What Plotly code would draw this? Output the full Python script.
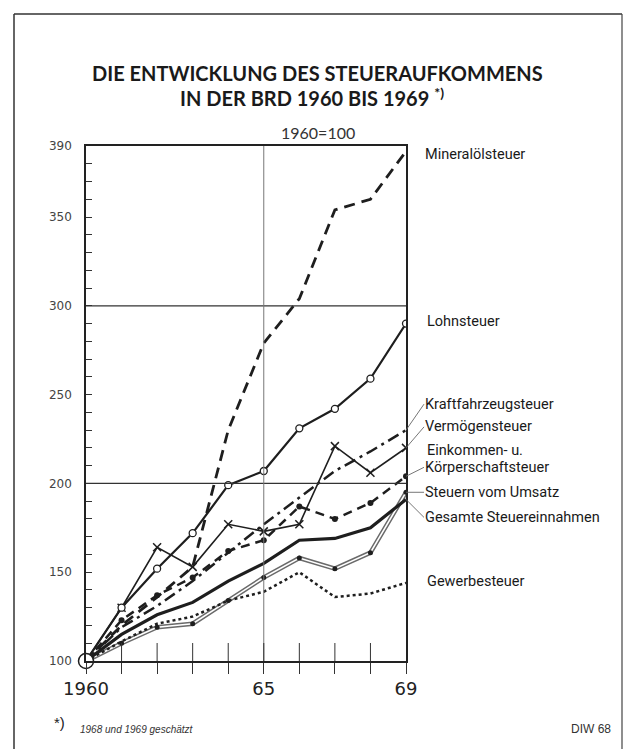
import plotly.graph_objects as go

# ---------------- data (index 1960 = 100) ----------------
years = [1960, 1961, 1962, 1963, 1964, 1965, 1966, 1967, 1968, 1969]
mineraloelsteuer = [100, 120, 136, 153, 230, 279, 304, 354, 360, 387]
lohnsteuer = [100, 130, 152, 172, 199, 207, 231, 242, 259, 290]
kraftfahrzeugsteuer = [100, 119, 131, 145, 161, 177, 192, 207, 218, 230]
vermoegensteuer = [100, 130, 164, 153, 177, 173, 177, 221, 206, 220]
einkommen_koerperschaft = [100, 123, 137, 147, 162, 168, 187, 180, 189, 204]
steuern_vom_umsatz = [100, 110, 119, 121, 134, 147, 158, 152, 161, 195]
gesamte_steuereinnahmen = [100, 115, 126, 133, 145, 155, 168, 169, 175, 191]
gewerbesteuer = [100, 111, 121, 125, 134, 139, 150, 136, 138, 144]

y_tickvals = [100, 150, 200, 250, 300, 350, 390]
x_tickvals = [1960, 1965, 1969]
x_ticktext = ["1960", "65", "69"]

# ---------------- layout geometry ----------------
W, H = 628, 749
L, R, T, B = 86, 222, 146, 88
PW, PH = W - L - R, H - T - B


def px(x):
    return (x - L) / PW


def py(y):
    return (H - B - y) / PH


INK = "#1e1e1e"
fig = go.Figure()

# Steuern vom Umsatz: double line
fig.add_trace(go.Scatter(x=years, y=steuern_vom_umsatz, mode="lines",
                         line=dict(color="#6a6a6a", width=4.5), hoverinfo="skip"))
fig.add_trace(go.Scatter(x=years, y=steuern_vom_umsatz, mode="lines+markers",
                         line=dict(color="white", width=1.6),
                         marker=dict(color=INK, size=5), name="Steuern vom Umsatz"))
# Gewerbesteuer dotted
fig.add_trace(go.Scatter(x=years, y=gewerbesteuer, mode="lines",
                         line=dict(color=INK, width=2.5, dash="dot"), name="Gewerbesteuer"))
# Gesamte Steuereinnahmen thick
fig.add_trace(go.Scatter(x=years, y=gesamte_steuereinnahmen, mode="lines",
                         line=dict(color=INK, width=3.2), name="Gesamte Steuereinnahmen"))
# Einkommen- u. Körperschaftsteuer dashed with dots
fig.add_trace(go.Scatter(x=years, y=einkommen_koerperschaft, mode="lines+markers",
                         line=dict(color=INK, width=2.5, dash="9px,6px"),
                         marker=dict(color=INK, size=6), name="Einkommen- u. Körperschaftsteuer"))
# Kraftfahrzeugsteuer dash-dot
fig.add_trace(go.Scatter(x=years, y=kraftfahrzeugsteuer, mode="lines",
                         line=dict(color=INK, width=2.5, dash="12px,5px,3px,5px"),
                         name="Kraftfahrzeugsteuer"))
# Vermögensteuer thin with x markers
fig.add_trace(go.Scatter(x=years, y=vermoegensteuer, mode="lines+markers",
                         line=dict(color=INK, width=1.6),
                         marker=dict(symbol="x-thin", size=8, line=dict(color=INK, width=1.5)),
                         name="Vermögensteuer"))
# Lohnsteuer solid with open circles
fig.add_trace(go.Scatter(x=years, y=lohnsteuer, mode="lines+markers",
                         line=dict(color=INK, width=2.2),
                         marker=dict(symbol="circle", size=7, color="white",
                                     line=dict(color=INK, width=1.3)),
                         name="Lohnsteuer"))
# Mineralölsteuer dashed
fig.add_trace(go.Scatter(x=years, y=mineraloelsteuer, mode="lines",
                         line=dict(color=INK, width=2.8, dash="11px,7px"),
                         name="Mineralölsteuer"))
# origin circle
fig.add_trace(go.Scatter(x=years[:1], y=[mineraloelsteuer[0]], mode="markers",
                         marker=dict(symbol="circle", size=15, color="white",
                                     line=dict(color=INK, width=1.5)),
                         cliponaxis=False, hoverinfo="skip"))

lab_font = dict(family="Roboto, Liberation Sans", size=14.5, color="#1a1a1a")
ann = []


def label(text, yv, xs=19, ys=0):
    ann.append(dict(x=years[-1], y=yv, xref="x", yref="y", text=text, showarrow=False,
                    xanchor="left", yanchor="middle", xshift=xs, yshift=ys, font=lab_font))


def arrow_label(text, yv, ax, ay):
    ann.append(dict(x=years[-1], y=yv, xref="x", yref="y", text=text, showarrow=True,
                    arrowhead=0, arrowwidth=0.9, arrowcolor="#666", ax=ax, ay=ay,
                    xanchor="left", yanchor="middle", standoff=0, font=lab_font,
                    borderpad=0))


label("Mineralölsteuer", mineraloelsteuer[-1], xs=17, ys=-3)
label("Lohnsteuer", lohnsteuer[-1], xs=19, ys=2)
arrow_label("Kraftfahrzeugsteuer", kraftfahrzeugsteuer[-1], 18, -26)
arrow_label("Vermögensteuer", vermoegensteuer[-1], 18, -21)
label("Einkommen- u.", einkommen_koerperschaft[-1], xs=19, ys=26)
arrow_label("Körperschaftsteuer", einkommen_koerperschaft[-1], 18, -9)
arrow_label("Steuern vom Umsatz", steuern_vom_umsatz[-1], 18, 0)
arrow_label("Gesamte Steuereinnahmen", gesamte_steuereinnahmen[-1], 18, 18)
label("Gewerbesteuer", gewerbesteuer[-1], xs=19, ys=1)


def page_text(x, y, text, font, xanchor="center"):
    ann.append(dict(x=px(x), y=py(y), xref="paper", yref="paper", showarrow=False,
                    xanchor=xanchor, yanchor="middle", text=text, font=font))


title_font = dict(family="Lato, Noto Sans, Liberation Sans", size=20, color="#1a1a1a",
                  weight="bold")
page_text(317, 73, "DIE ENTWICKLUNG DES STEUERAUFKOMMENS", title_font)
page_text(312, 97, "IN DER BRD 1960 BIS 1969 <sup>*)</sup>", title_font)
page_text(318, 133, "1960=100", dict(family="Lato, Liberation Sans", size=16, color="#333"))
page_text(52, 722, "*)", dict(family="Liberation Sans", size=15, color="#222"), "left")
page_text(78, 729, "<i>1968 und 1969 geschätzt</i>",
          dict(family="Liberation Sans", size=10, color="#333"), "left")
page_text(613, 729, "DIW 68", dict(family="Liberation Sans", size=12, color="#333"), "right")

shapes = [
    # grid lines
    dict(type="line", xref="paper", yref="y", x0=0, x1=1, y0=200, y1=200,
         line=dict(color="#333", width=1.4)),
    dict(type="line", xref="paper", yref="y", x0=0, x1=1, y0=300, y1=300,
         line=dict(color="#333", width=1.4)),
    dict(type="line", xref="x", yref="paper", x0=1965, x1=1965, y0=0, y1=1,
         line=dict(color="#777", width=1)),
    # page frame
    dict(type="line", xref="paper", yref="paper", x0=px(14), x1=px(14), y0=py(14), y1=py(760),
         line=dict(color="#333", width=1.5)),
    dict(type="line", xref="paper", yref="paper", x0=px(14), x1=px(622), y0=py(14), y1=py(14),
         line=dict(color="#333", width=1.5)),
    dict(type="line", xref="paper", yref="paper", x0=px(622), x1=px(622), y0=py(14), y1=py(760),
         line=dict(color="#444", width=1.2)),
]
# inner year ticks (crossing the x axis together with the outside ticks)
for yr in years[1:-1]:
    shapes.append(dict(type="line", xref="x", yref="paper", x0=yr, x1=yr,
                       y0=0, y1=18 / PH, line=dict(color="#333", width=1)))

fig.update_layout(
    width=W, height=H, margin=dict(l=L, r=R, t=T, b=B),
    paper_bgcolor="white", plot_bgcolor="white", showlegend=False,
    annotations=ann, shapes=shapes,
    xaxis=dict(range=[1960, 1969], tickvals=x_tickvals, ticktext=x_ticktext,
               ticks="outside", ticklen=11, tickwidth=1, tickcolor="#333",
               minor=dict(tickvals=years, ticks="outside", ticklen=11, tickwidth=1,
                          tickcolor="#333"),
               showgrid=False, zeroline=False, showline=True, linecolor="#222",
               linewidth=1.5, mirror=True,
               tickfont=dict(family="DejaVu Sans", size=18, color="#222")),
    yaxis=dict(range=[100, 390], tickvals=y_tickvals, ticks="inside", ticklen=6,
               tickcolor="#333", showgrid=False, zeroline=False, showline=True,
               linecolor="#222", linewidth=1.5, mirror=True, ticklabelstandoff=10,
               minor=dict(dtick=10, tick0=100, ticks="inside", ticklen=6,
                          tickcolor="#333"),
               tickfont=dict(family="DejaVu Sans", size=12, color="#444")),
)

fig.write_html("out.html", config={"displayModeBar": False},
               post_script="document.body.style.margin='0';")
